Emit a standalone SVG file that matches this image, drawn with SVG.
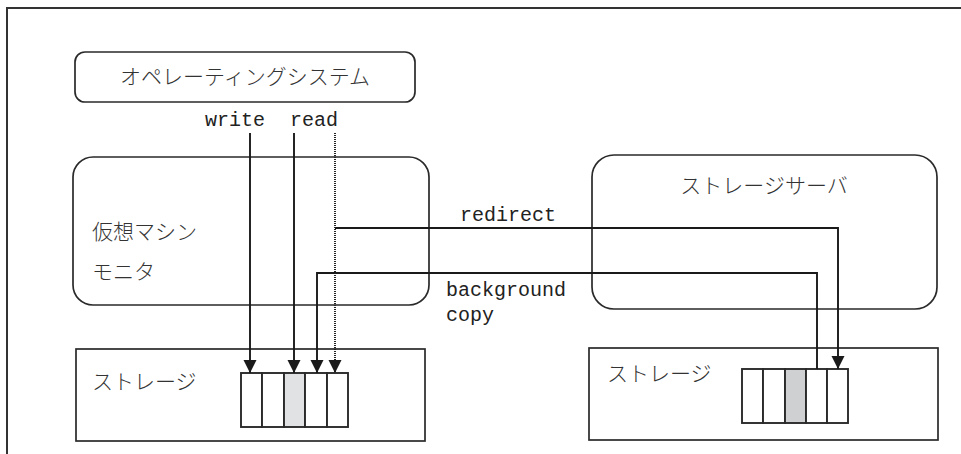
<svg xmlns="http://www.w3.org/2000/svg" width="961" height="454" viewBox="0 0 961 454">
<style>
.box{fill:#fff;stroke:#2a2a2a;stroke-width:1.7}
.blk{fill:#fff;stroke:#2a2a2a;stroke-width:1.9}
.jp{font-family:"Noto Sans CJK JP","Noto Sans",sans-serif;font-size:21px;fill:#333;font-weight:300}
.mono{font-family:"Liberation Mono","DejaVu Sans Mono",monospace;font-size:20px;fill:#222}
.ln{fill:none;stroke:#1a1a1a;stroke-width:1.9}
.dot{fill:none;stroke:#1a1a1a;stroke-width:1.9;stroke-dasharray:1 1}
</style>
<defs>
<marker id="ad" markerUnits="userSpaceOnUse" markerWidth="16" markerHeight="16" viewBox="0 0 16 16" refX="14" refY="8" orient="auto">
<path d="M1,1.5 L14,8 L1,14.5 Z" fill="#1a1a1a"/>
</marker>
</defs>
<rect x="7" y="8" width="970" height="470" fill="#fff" stroke="#333" stroke-width="2"/>
<g id="os">
<rect class="box" x="75" y="52" width="340" height="50" rx="10"/>
<text class="jp" x="245" y="84" text-anchor="middle">オペレーティングシステム</text>
</g>
<g id="vmm">
<rect class="box" x="73" y="157" width="356" height="148" rx="20"/>
<text class="jp" x="92" y="239">仮想マシン</text>
<text class="jp" x="92" y="279">モニタ</text>
</g>
<g id="server">
<rect class="box" x="592" y="155" width="345" height="154" rx="22"/>
<text class="jp" x="764" y="193" text-anchor="middle">ストレージサーバ</text>
</g>
<g id="storage-left">
<rect class="box" x="76" y="349" width="349" height="92"/>
<text class="jp" x="92" y="389">ストレージ</text>
<rect class="blk" x="241" y="373" width="21" height="54"/>
<rect class="blk" x="262" y="373" width="22" height="54"/>
<rect class="blk" x="284" y="373" width="21" height="54" style="fill:#e1e2e3"/>
<rect class="blk" x="305" y="373" width="22" height="54"/>
<rect class="blk" x="327" y="373" width="21" height="54"/>
</g>
<g id="storage-right">
<rect class="box" x="589" y="348" width="349" height="92"/>
<text class="jp" x="607" y="381">ストレージ</text>
<rect class="blk" x="742" y="369" width="21" height="54"/>
<rect class="blk" x="763" y="369" width="22" height="54"/>
<rect class="blk" x="785" y="369" width="21" height="54" style="fill:#cfd0d1"/>
<rect class="blk" x="806" y="369" width="21" height="54"/>
<rect class="blk" x="827" y="369" width="21" height="54"/>
</g>
<g id="connectors">
<path class="ln" d="M250,133 V373" marker-end="url(#ad)"/>
<path class="ln" d="M294,133 V373" marker-end="url(#ad)"/>
<path class="dot" d="M335,133 V373" marker-end="url(#ad)"/>
<path class="ln" d="M335,228 H838 V369" marker-end="url(#ad)"/>
<path class="ln" d="M817,369 V273 H317 V373" marker-end="url(#ad)"/>
<text class="mono" x="205" y="126">write</text>
<text class="mono" x="290" y="126">read</text>
<text class="mono" x="460" y="221">redirect</text>
<text class="mono" x="446" y="296">background</text>
<text class="mono" x="446" y="321">copy</text>
</g>
</svg>
